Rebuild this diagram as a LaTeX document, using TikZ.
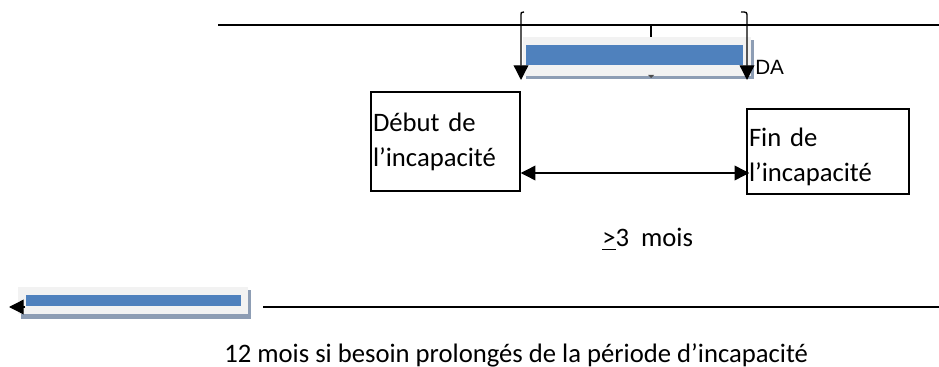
\documentclass[tikz,border=0pt]{standalone}
\usepackage{fontspec}
\setmainfont{Carlito}
\newfontfamily\arialfont{Liberation Sans}
\usetikzlibrary{arrows.meta,positioning}
\definecolor{barblue}{RGB}{79,129,189}
\definecolor{bargray}{RGB}{242,242,242}
\definecolor{barshadow}{RGB}{141,157,180}
\tikzset{
  tip/.style={-{Triangle[length=11pt,width=11pt]}},
  box/.style={draw,line width=1.1pt,align=left,inner xsep=1.5pt,inner ysep=0pt,
    font=\fontsize{20}{26.25}\selectfont},
  lbl/.style={inner sep=0pt,anchor=base west,font=\fontsize{20}{26.25}\selectfont}
}
\begin{document}
\begin{tikzpicture}[x=0.75pt,y=-0.75pt]
  \useasboundingbox (0,0) rectangle (939,367);

  % top timeline
  \draw[line width=0.8pt] (218,25) -- (939,25);
  \draw[line width=0.8pt] (651,25) -- (651,37);

  % upper bar
  \fill[barshadow] (526,40) rectangle (754,79);
  \fill[bargray] (523,37) rectangle (751,76);
  \fill[barblue] (526,45) rectangle (743,65);
  \fill[black!70] (648,75) -- (654,75) -- (651,78) -- cycle;

  % brackets
  \coordinate (lefttop) at (524,12);
  \coordinate (leftend) at (521,80);
  \coordinate (righttop) at (741,12);
  \coordinate (rightend) at (747,80);
  \draw[tip,line width=1pt] (lefttop) .. controls (521,12) .. (521,17) -- (leftend);
  \draw[tip,line width=1pt] (righttop) .. controls (747,12) .. (747,17) -- (rightend);
  \node[inner sep=0pt,anchor=base west,font=\arialfont\fontsize{15.5}{18}\selectfont] (da) at (755,75) {DA};

  % boxes
  \node[box,minimum width=111.75pt,minimum height=74.25pt,text width=108.75pt] (debut) at (445.5,141.5) {Début de\\l’incapacité};
  \node[box,minimum width=121.5pt,minimum height=63.75pt,text width=118.5pt] (fin) at (828,151.5) {\rule{0pt}{22.5pt}Fin de\\l’incapacité};
  \coordinate (finarrow) at ([xshift=2.25pt]fin.west |- 0,173);
  \draw[{Triangle[length=11pt,width=11pt]}-{Triangle[length=11pt,width=11pt]},line width=1pt]
    (debut.east |- 0,173) -- (finarrow);
  \node[lbl] (duree) at (602,247) {\underline{>}3\ \ mois};

  % lower bar
  \draw[line width=0.8pt] (263,307) -- (939,307);
  \fill[barshadow] (21,290) rectangle (251,319);
  \fill[bargray] (18,287) rectangle (248,314);
  \fill[barblue] (26,295) rectangle (241,306);
  \coordinate (barstart) at (25,307);
  \coordinate (barend) at (9,307);
  \draw[tip,line width=1pt] (barstart) -- (barend);
  \node[lbl] (prolong) at (224,362) {12 mois si besoin prolongés de la période d’incapacité};
\end{tikzpicture}
\end{document}
